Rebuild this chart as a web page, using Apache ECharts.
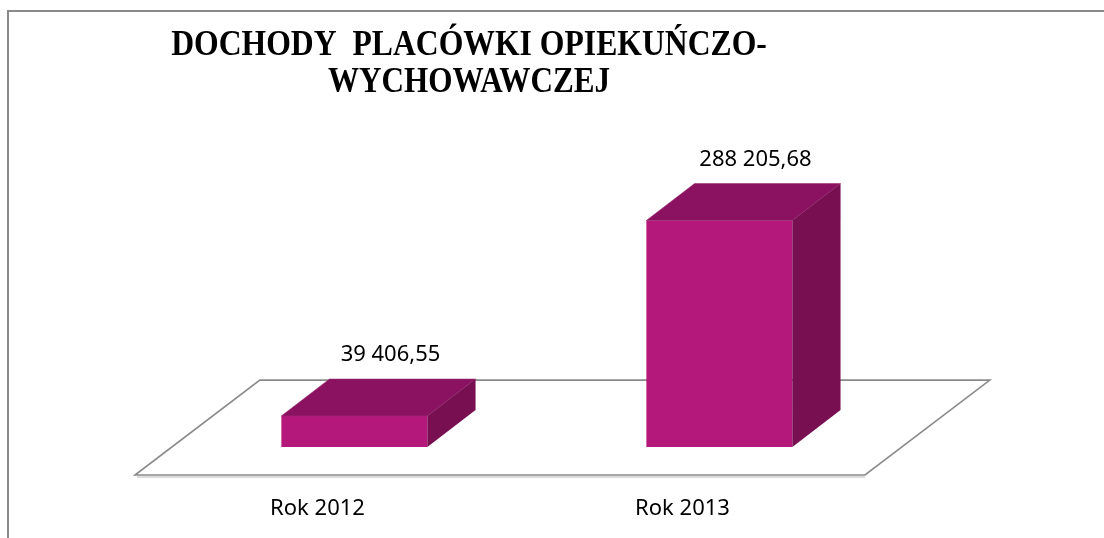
<!DOCTYPE html>
<html>
<head>
<meta charset="utf-8">
<script src="https://cdn.jsdelivr.net/npm/echarts@6/dist/echarts.min.js"></script>
<style>
  html, body { margin: 0; padding: 0; background: #fff; }
  #chart { width: 1104px; height: 538px; }
</style>
</head>
<body>
<div id="chart"></div>
<script>
var categories = ['Rok 2012', 'Rok 2013'];
var values = [39406.55, 288205.68];
var titleLines = ['DOCHODY  PLACÓWKI OPIEKUŃCZO-', 'WYCHOWAWCZEJ'];

// 39406.55 -> "39 406,55"
function plNumber(v) {
    var parts = v.toFixed(2).split('.');
    return parts[0].replace(/\B(?=(\d{3})+(?!\d))/g, ' ') + ',' + parts[1];
}

var myChart = echarts.init(document.getElementById('chart'));

// white floor under the bars, spread along the x axis
function renderFloor(params, api) {
    var cs = params.coordSys;
    var band = cs.width / categories.length;
    var fdx = band * 0.342, fdy = -band * 0.26;
    var y0 = cs.y + cs.height;
    var x0 = cs.x, x1 = cs.x + cs.width;
    return {
        type: 'group',
        children: [
            {
                type: 'line',
                shape: { x1: x0 + 2, y1: y0 + 2, x2: x1, y2: y0 + 2 },
                style: { stroke: '#dcdcdc', lineWidth: 2 }
            },
            {
                type: 'polygon',
                shape: { points: [[x0, y0], [x1, y0], [x1 + fdx, y0 + fdy], [x0 + fdx, y0 + fdy]] },
                style: { fill: '#fff', stroke: '#8a8a8a', lineWidth: 1.6 }
            }
        ]
    };
}

// 3d box: front face, top face, right side, value label
function renderBar(params, api) {
    var i = api.value(0);
    var val = api.value(1);
    var band = api.size([1, 0])[0];
    var base = api.coord([i, 0]);
    var h = api.size([0, val])[1];
    var w = band * 0.4;
    var ox = band * 0.101, oy = -band * 0.077;   // bar stands back from floor front
    var dx = band * 0.132, dy = -band * 0.101;   // bar depth
    var x0 = base[0] + ox - w / 2, x1 = x0 + w;
    var yb = base[1] + oy, yt = yb - h;
    return {
        type: 'group',
        children: [
            {
                type: 'rect',
                shape: { x: x0, y: yt, width: w, height: h },
                style: { fill: '#b5187b' }
            },
            {
                type: 'polygon',
                shape: { points: [[x0, yt], [x1, yt], [x1 + dx, yt + dy], [x0 + dx, yt + dy]] },
                style: { fill: '#8b1260', stroke: '#9a2a72', lineWidth: 0.6 }
            },
            {
                type: 'polygon',
                shape: { points: [[x1, yt], [x1 + dx, yt + dy], [x1 + dx, yb + dy], [x1, yb]] },
                style: { fill: '#770f51' }
            },
            {
                type: 'text',
                style: {
                    x: base[0] + ox + dx * 0.75,
                    y: yt + dy - 24,
                    text: plNumber(val),
                    fill: '#000',
                    font: '22px "Noto Sans"',
                    textAlign: 'center',
                    textVerticalAlign: 'middle'
                }
            }
        ]
    };
}

option = {
    backgroundColor: '#fff',
    animation: false,
    graphic: [
        {
            type: 'polyline',
            shape: { points: [[8, 538], [8, 11], [1104, 11]] },
            style: { stroke: '#8a8a8a', lineWidth: 2, fill: null }
        },
        {
            type: 'text',
            x: 469,
            y: 46,
            scaleX: 0.905,
            style: {
                text: titleLines[0],
                font: 'bold 35px "Liberation Serif"',
                fill: '#000',
                textAlign: 'center',
                textVerticalAlign: 'middle'
            }
        },
        {
            type: 'text',
            x: 469,
            y: 83,
            scaleX: 0.89,
            style: {
                text: titleLines[1],
                font: 'bold 35px "Liberation Serif"',
                fill: '#000',
                textAlign: 'center',
                textVerticalAlign: 'middle'
            }
        }
    ],
    grid: {
        left: 135,
        right: 239,
        top: 200,
        bottom: 63
    },
    xAxis: {
        type: 'category',
        data: categories,
        axisLine: { show: false },
        axisTick: { show: false },
        axisLabel: {
            margin: 23,
            fontSize: 22,
            fontFamily: 'Noto Sans',
            color: '#000'
        }
    },
    yAxis: {
        type: 'value',
        min: 0,
        max: 350000,
        show: false
    },
    series: [
        {
            name: 'floor',
            type: 'custom',
            z: 1,
            silent: true,
            renderItem: renderFloor,
            data: [[0]]
        },
        {
            name: 'Dochody',
            type: 'custom',
            z: 2,
            clip: false,
            renderItem: renderBar,
            encode: { x: 0, y: 1 },
            data: values.map(function (v, i) { return [i, v]; })
        }
    ]
};
myChart.setOption(option);
</script>
</body>
</html>
